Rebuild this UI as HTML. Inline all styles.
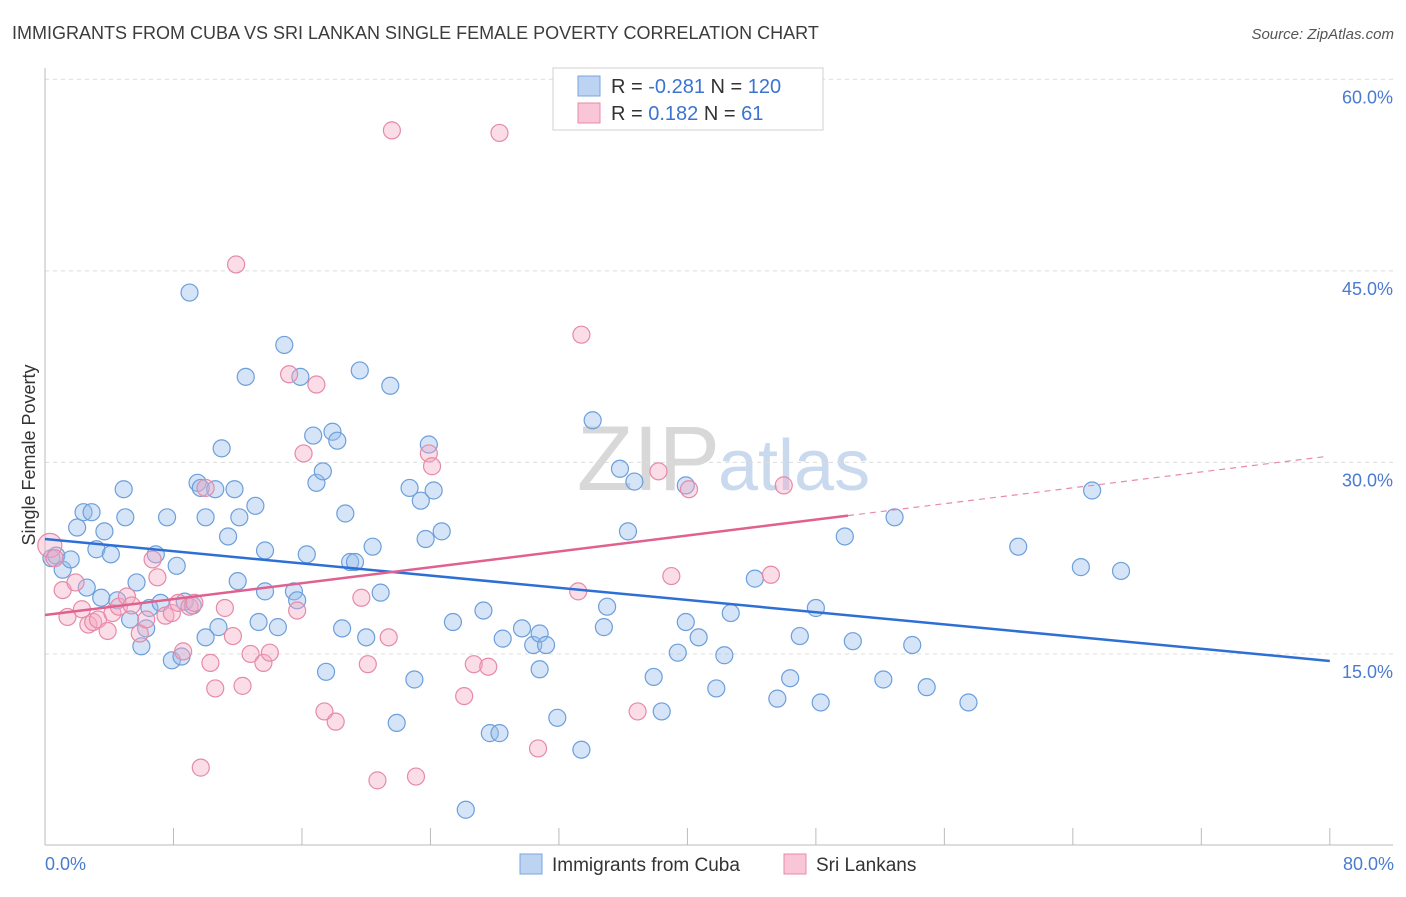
<!DOCTYPE html>
<html><head><meta charset="utf-8"><style>
body{margin:0;background:#fff;font-family:"Liberation Sans",sans-serif;}
svg text{font-family:"Liberation Sans",sans-serif;}
</style></head><body>
<svg id="chart" width="1406" height="892" viewBox="0 0 1406 892">
<text x="12" y="39" font-size="18" fill="#3c3c3c">IMMIGRANTS FROM CUBA VS SRI LANKAN SINGLE FEMALE POVERTY CORRELATION CHART</text>
<text x="1394" y="39" font-size="15" fill="#555" font-style="italic" text-anchor="end">Source: ZipAtlas.com</text>
<text x="720" y="490" font-size="92" fill="#d8d8d8" text-anchor="end" font-family="Liberation Serif">ZIP</text>
<text x="718" y="490" font-size="72" fill="#c9d9ee">atlas</text>
<g id="grid"></g>
<g id="axes"></g>
<g id="pts"></g>
<g id="trends"></g>
<text transform="translate(35,455) rotate(-90)" font-size="18" fill="#333" text-anchor="middle">Single Female Poverty</text>
<text x="45" y="870" font-size="18" fill="#4a7bd0">0.0%</text>
<text x="1394" y="870" font-size="18" fill="#4a7bd0" text-anchor="end">80.0%</text>
<g>
<rect x="553" y="68" width="270" height="62" fill="#fff" stroke="#d0d0d0"/>
<rect x="578" y="76" width="22" height="20" fill="#bcd3f2" stroke="#7aa6dd"/>
<rect x="578" y="103" width="22" height="20" fill="#f8c6d6" stroke="#e68aa8"/>
<text x="611" y="93" font-size="20" fill="#333">R = <tspan fill="#3b74d0">-0.281</tspan>   N = <tspan fill="#3b74d0">120</tspan></text>
<text x="611" y="120" font-size="20" fill="#333">R =   <tspan fill="#3b74d0">0.182</tspan>   N =   <tspan fill="#3b74d0">61</tspan></text>
</g>
<g>
<rect x="520" y="854" width="22" height="20" fill="#bcd3f2" stroke="#7aa6dd"/>
<text x="552" y="871" font-size="19" fill="#333">Immigrants from Cuba</text>
<rect x="784" y="854" width="22" height="20" fill="#f8c6d6" stroke="#e68aa8"/>
<text x="816" y="871" font-size="19" fill="#333">Sri Lankans</text>
</g>
</svg>
<script>
const blueX=[0.4,0.7,1.1,1.6,2.0,2.4,2.9,3.2,3.7,4.1,2.6,3.5,4.5,4.9,5.0,5.3,5.7,6.0,6.3,6.5,6.9,7.2,7.6,7.9,8.2,8.5,8.7,9.0,9.2,9.5,9.7,10.0,10.0,10.6,10.8,11.0,11.4,11.8,12.0,12.1,12.5,13.1,13.3,13.7,13.7,14.5,14.9,15.5,15.7,15.9,16.3,16.7,16.9,17.3,17.5,17.9,18.2,18.5,18.7,19.0,19.3,19.6,20.0,20.4,20.9,21.5,21.9,22.7,23.0,23.4,23.7,23.9,24.2,24.7,25.4,27.3,26.2,27.7,28.3,28.5,29.7,30.4,30.8,30.8,31.2,31.9,33.4,34.1,35.0,34.8,35.8,36.3,36.7,37.9,38.4,39.4,39.9,39.9,40.7,41.8,42.3,42.7,44.2,45.6,46.4,47.0,48.0,48.3,49.8,50.3,52.2,52.9,54.0,54.9,57.5,60.6,64.5,65.2,67.0];
const blueY=[22.5,22.7,21.6,22.4,24.9,26.1,26.1,23.2,24.6,22.8,20.2,19.4,19.2,27.9,25.7,17.7,20.6,15.6,17.0,18.6,22.8,19.0,25.7,14.5,21.9,14.8,19.1,43.3,18.8,28.4,28.0,25.7,16.3,27.9,17.1,31.1,24.2,27.9,20.7,25.7,36.7,26.6,17.5,23.1,19.9,17.1,39.2,19.9,19.2,36.7,22.8,32.1,28.4,29.3,13.6,32.4,31.7,17.0,26.0,22.2,22.2,37.2,16.3,23.4,19.8,36.0,9.6,28.0,13.0,27.0,24.0,31.4,27.8,24.6,17.5,18.4,2.8,8.8,8.8,16.2,17.0,15.7,16.6,13.8,15.7,10.0,7.5,33.3,18.7,17.1,29.5,24.6,28.5,13.2,10.5,15.1,28.2,17.5,16.3,12.3,14.9,18.2,20.9,11.5,13.1,16.4,18.6,11.2,24.2,16.0,13.0,25.7,15.7,12.4,11.2,23.4,21.8,27.8,21.5];
const pinkX=[0.3,0.6,1.1,1.4,1.9,2.3,2.7,3.0,3.3,3.9,4.2,4.6,5.1,5.4,5.9,6.3,6.7,7.0,7.5,7.9,8.3,8.6,9.0,9.3,9.7,10.0,10.3,10.6,11.2,11.7,11.9,12.3,12.8,13.6,14.0,15.7,16.1,15.2,16.9,17.4,18.1,19.7,20.1,20.7,21.4,21.6,23.1,23.9,24.1,26.1,26.7,27.6,28.3,30.7,33.2,33.4,36.9,38.2,39.0,40.1,45.2,46.0];
const pinkY=[23.5,22.5,20.0,17.9,20.6,18.5,17.3,17.5,17.7,16.8,18.2,18.7,19.5,18.8,16.6,17.7,22.4,21.0,18.0,18.2,19.0,15.2,18.7,19.0,6.1,28.0,14.3,12.3,18.6,16.4,45.5,12.5,15.0,14.3,15.1,18.4,30.7,36.9,36.1,10.5,9.7,19.4,14.2,5.1,16.3,56.0,5.4,30.7,29.7,11.7,14.2,14.0,55.8,7.6,19.9,40.0,10.5,29.3,21.1,27.9,21.2,28.2];
const blueTrend=[24.0,14.45];   // y at x=0 and x=80
const pinkTrend=[18.05,30.5];   // y at x=0 and x=80
const pinkSolidEnd=50;
const yTicks=[15,30,45,60];
const yTickLabels=["15.0%","30.0%","45.0%","60.0%"];
const xTicks=[0,8,16,24,32,40,48,56,64,72,80];

const NS="http://www.w3.org/2000/svg";
const X=v=>45+v*16.06, Y=v=>845.5-v*12.77;
function mk(tag,attrs,parent){const e=document.createElementNS(NS,tag);for(const k in attrs)e.setAttribute(k,attrs[k]);parent.appendChild(e);return e;}
const grid=document.getElementById('grid'),axes=document.getElementById('axes'),pts=document.getElementById('pts'),tr=document.getElementById('trends');
yTicks.forEach((t,i)=>{
  const l=mk('line',{x1:45,x2:1393,y1:Y(t),y2:Y(t),stroke:'#dcdcdc','stroke-dasharray':'4,4'},grid);
  
  
  const tx=mk('text',{x:1393,y:Y(t)+24,'font-size':18,fill:'#4a7bd0','text-anchor':'end'},grid);
  tx.textContent=yTickLabels[i];
  
  
});
const ya=mk('line',{x1:45,x2:45,y1:68,y2:845,stroke:'#bbb'},axes);


const xa=mk('line',{x1:45,x2:1393,y1:845,y2:845,stroke:'#bbb'},axes);


xTicks.forEach(t=>{
  const l=mk('line',{x1:X(t),x2:X(t),y1:828,y2:845,stroke:'#bbb'},axes);
  
  
});
blueX.forEach((x,i)=>{
  const c=mk('circle',{cx:X(x),cy:Y(blueY[i]),r:8.5,fill:'rgba(150,187,235,0.4)',stroke:'#6c9fdc','stroke-width':1.2},pts);
  
  
});
pinkX.forEach((x,i)=>{
  const c=mk('circle',{cx:X(x),cy:Y(pinkY[i]),r:i===0?12:8.5,fill:'rgba(244,170,196,0.4)',stroke:'#e68aa8','stroke-width':1.2},pts);
  
  
});
const bt=mk('line',{x1:X(0),y1:Y(blueTrend[0]),x2:X(80),y2:Y(blueTrend[1]),stroke:'#2e6fd6','stroke-width':2.5},tr);


const py=x=>pinkTrend[0]+(pinkTrend[1]-pinkTrend[0])*x/80;
const ps=mk('line',{x1:X(0),y1:Y(py(0)),x2:X(pinkSolidEnd),y2:Y(py(pinkSolidEnd)),stroke:'#e0608f','stroke-width':2.5},tr);


const pd=mk('line',{x1:X(pinkSolidEnd),y1:Y(py(pinkSolidEnd)),x2:X(79.7),y2:Y(py(79.7)),stroke:'#e88aab','stroke-width':1.2,'stroke-dasharray':'6,5'},tr);


</script>
</body></html>
